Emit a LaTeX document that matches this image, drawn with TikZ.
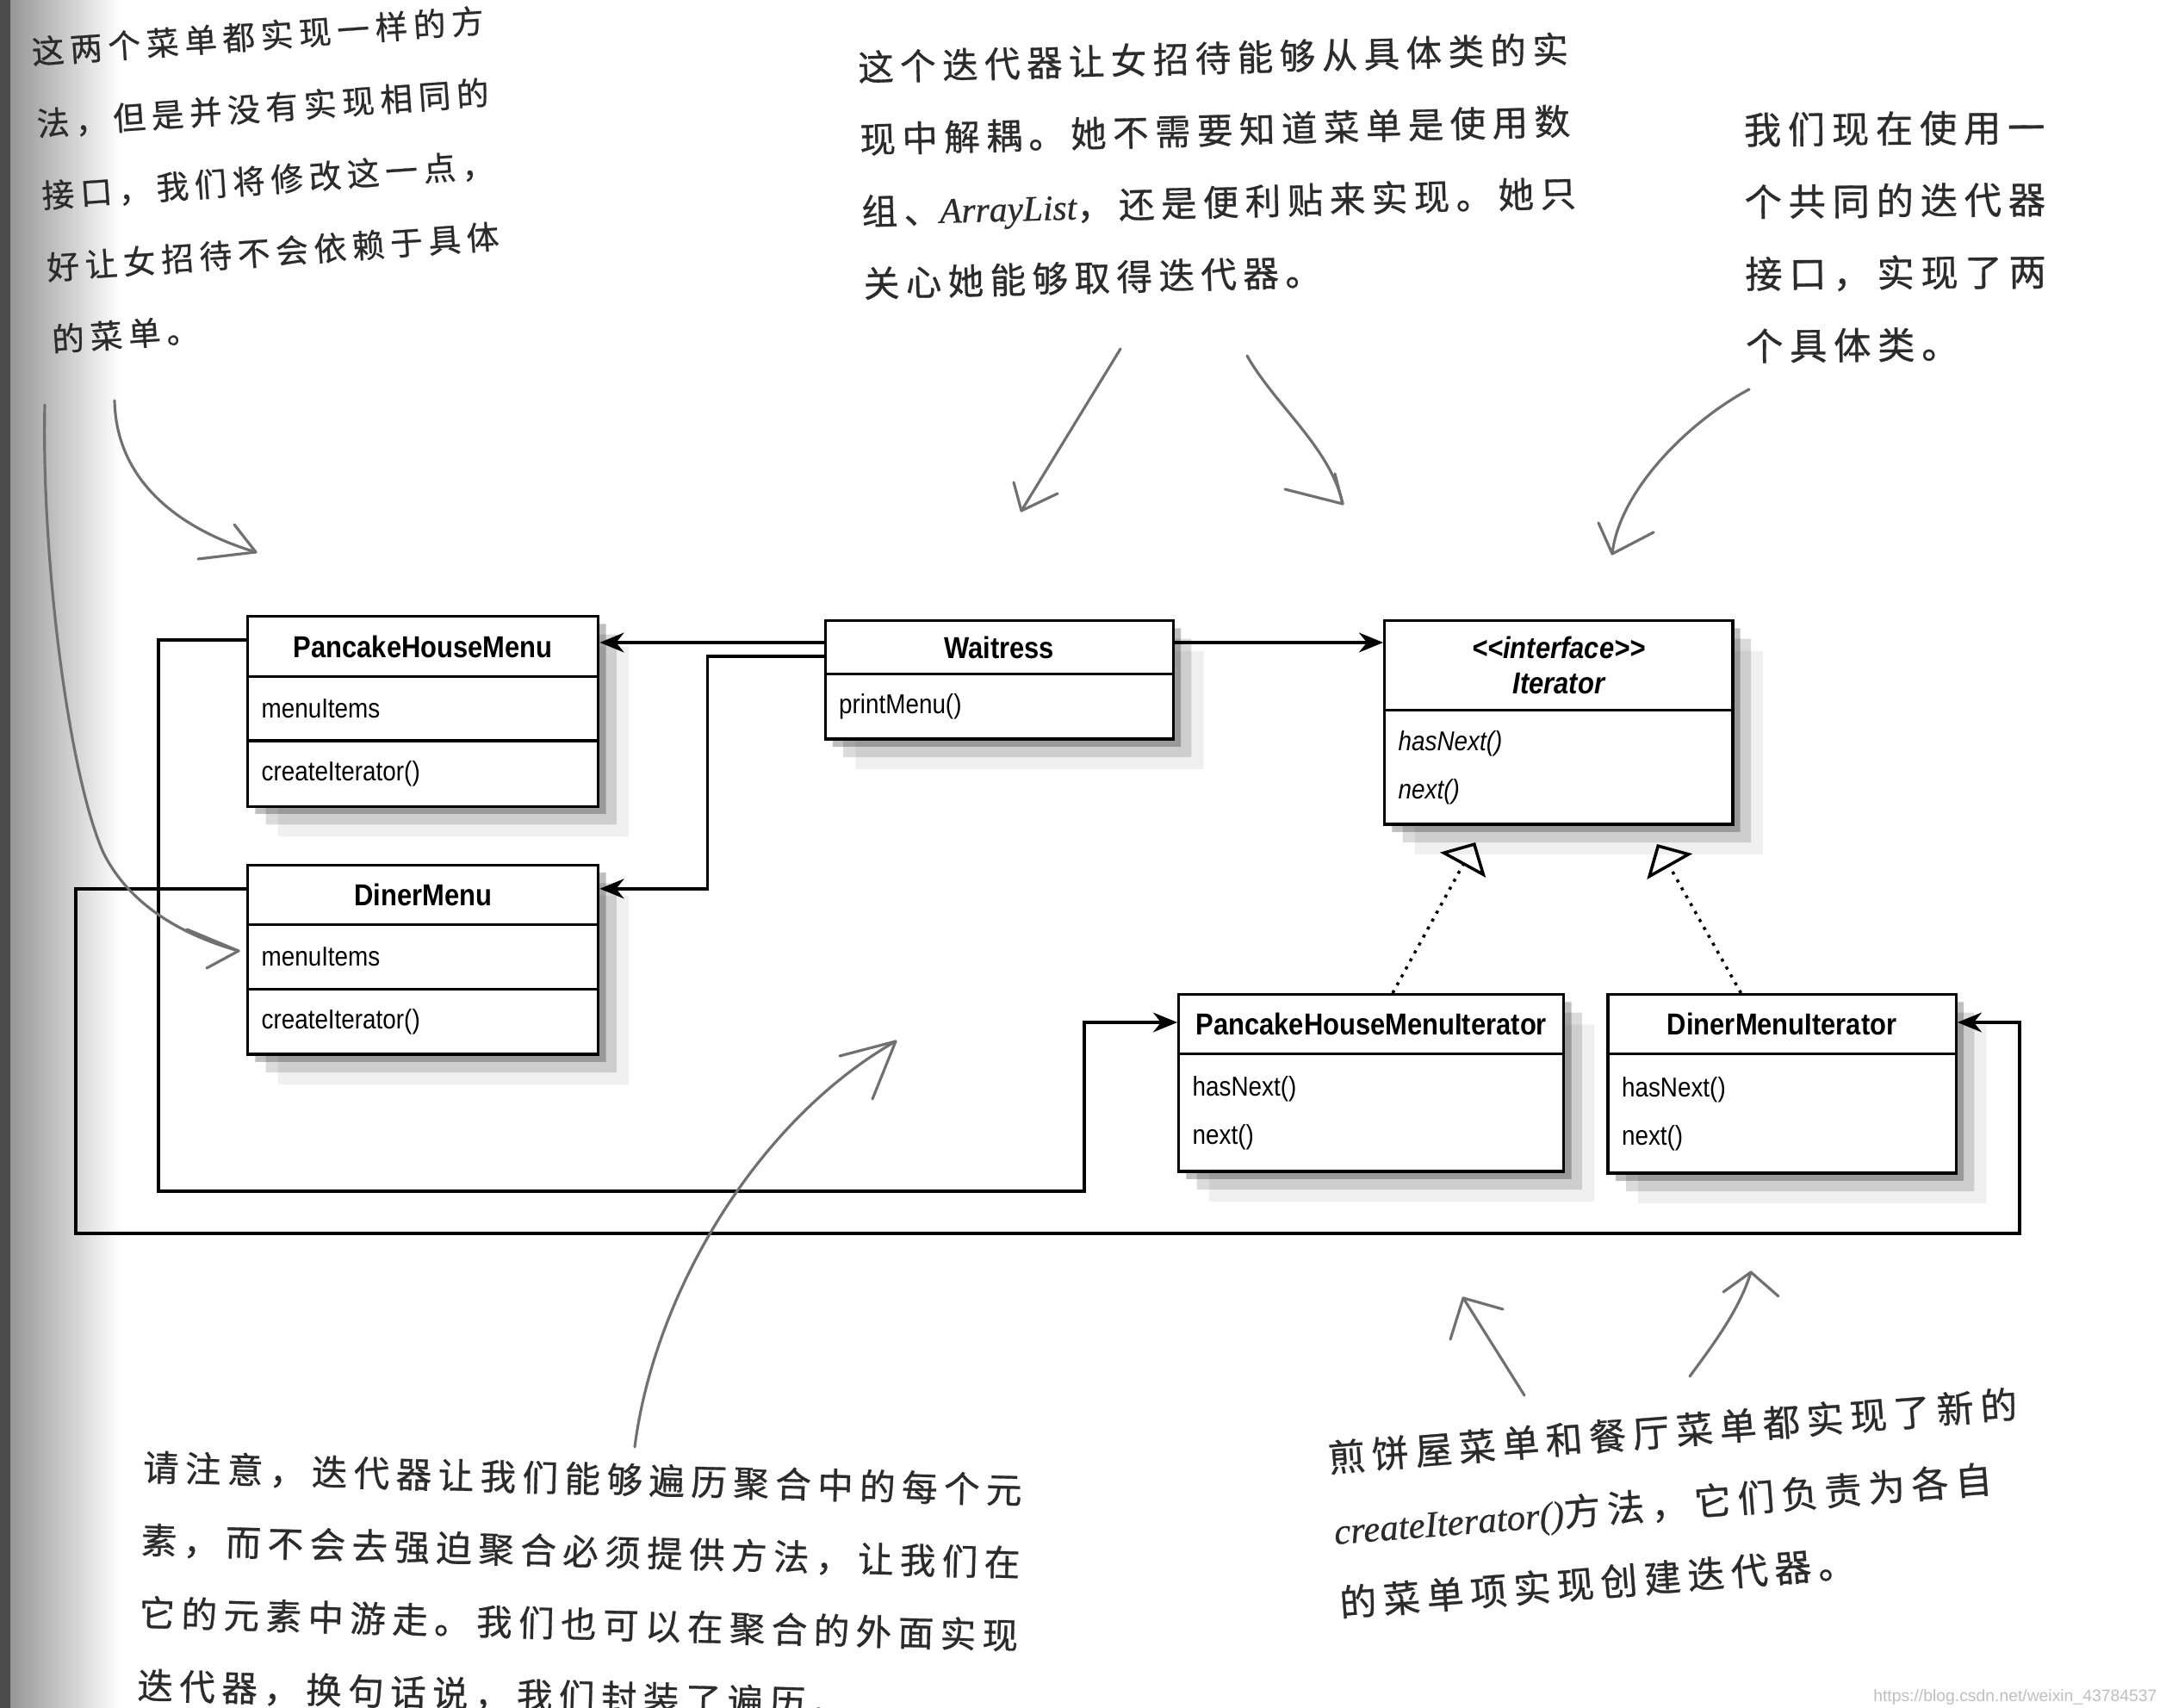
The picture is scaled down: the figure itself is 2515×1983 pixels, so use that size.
\documentclass[tikz,border=0pt]{standalone}
\usepackage{fontspec}
\usepackage{xcolor}
\usepackage{tikz}
\usetikzlibrary{positioning,calc,arrows.meta,shapes.multipart,shadows}
\setmainfont{Liberation Sans}
\newfontfamily\umlfont[FakeStretch=0.88]{Liberation Sans}
\newfontfamily\handfont[LetterSpace=18, FakeBold=0.7]{Noto Sans CJK SC}
\newfontfamily\handlatin[FakeBold=0.5]{Liberation Serif}
\definecolor{InkGray}{HTML}{2B2B2B}
\definecolor{PencilGray}{HTML}{707070}
\newcommand{\cpart}[3]{\parbox[c][#2][c]{#1}{#3}}
\newcommand{\cname}[1]{{\fontsize{10}{12}\selectfont\bfseries #1}}
\newcommand{\pad}{\hspace*{0.16cm}}
\newcommand{\hand}[1]{{\handlatin\itshape #1}}

\begin{document}
\begin{tikzpicture}[x=0.01cm, y=-0.01cm,
  umlclass/.style={draw, line width=0.9pt, fill=white, inner sep=0pt,
    rectangle split, rectangle split parts=#1,
    font={\umlfont\fontsize{9}{11}\selectfont},
    drop shadow={shadow xshift=2.5pt, shadow yshift=-2.5pt, fill=black, opacity=.25},
    drop shadow={shadow xshift=6pt, shadow yshift=-6pt, fill=black, opacity=.14},
    drop shadow={shadow xshift=10pt, shadow yshift=-10pt, fill=black, opacity=.06}},
  link/.style={line width=1pt, -{Stealth[length=8pt, width=6.5pt]}},
  realize/.style={line width=1pt, dotted, -{Triangle[open, length=0.3cm, width=0.6cm]}},
  note/.style={anchor=north west, inner sep=0pt, align=left, text=InkGray},
  pencil/.style={draw=PencilGray, line width=0.9pt, line cap=round, line join=round}]
  \useasboundingbox (0,0) rectangle (2515,1983);
  \fill[white] (0,0) rectangle (2515,1983);
  % page edge
  \shade[left color=black!45, right color=white] (0,0) rectangle (140,1983);
  \fill[black!70] (0,0) rectangle (12,1983);

  % Nodes
  \node[umlclass=3, anchor=north west] (phm) at (286,714)
    {\cpart{4.07cm}{0.67cm}{\centering\cname{PancakeHouseMenu}}
     \nodepart{two}\cpart{4.07cm}{0.71cm}{\pad menuItems}
     \nodepart{three}\cpart{4.07cm}{0.73cm}{\pad createIterator()}};
  \node[umlclass=3, below=0.65cm of phm.south west, anchor=north west] (dinermenu)
    {\cpart{4.07cm}{0.66cm}{\centering\cname{DinerMenu}}
     \nodepart{two}\cpart{4.07cm}{0.72cm}{\pad menuItems}
     \nodepart{three}\cpart{4.07cm}{0.72cm}{\pad createIterator()}};
  \node[umlclass=2, right=2.6cm of phm.north east, anchor=north west, yshift=-0.05cm] (waitress)
    {\cpart{4.04cm}{0.59cm}{\centering\cname{Waitress}}
     \nodepart{two}\cpart{4.04cm}{0.72cm}{\pad printMenu()}};
  \node[umlclass=2, right=2.42cm of waitress.north east, anchor=north west] (iter)
    {\cpart{4.04cm}{1.01cm}{\centering\cname{\itshape <{}<interface>{}>\\[0.7pt] Iterator}}
     \nodepart{two}\cpart{4.04cm}{1.29cm}{\itshape\pad hasNext()\\[4.9pt]\pad next()}};
  \node[umlclass=2, anchor=north west] (phmi) at (1367,1153)
    {\cpart{4.47cm}{0.66cm}{\centering\cname{PancakeHouseMenuIterator}}
     \nodepart{two}\cpart{4.47cm}{1.33cm}{\pad hasNext()\\[4.9pt]\pad next()}};
  \node[umlclass=2, right=0.48cm of phmi.north east, anchor=north west] (dmi)
    {\cpart{4.04cm}{0.66cm}{\centering\cname{DinerMenuIterator}}
     \nodepart{two}\cpart{4.04cm}{1.35cm}{\pad hasNext()\\[4.9pt]\pad next()}};

  % Arrows
  \coordinate (wl) at ($(waitress.north west)+(0,27)$);
  \coordinate (wr) at ($(waitress.north east)+(0,27)$);
  \coordinate (dmr) at ($(dinermenu.north east)+(0,29)$);
  \coordinate (phml) at ($(phm.north west)+(0,29)$);
  \coordinate (dml) at ($(dinermenu.north west)+(0,29)$);
  \coordinate (phmiw) at ($(phmi.north west)+(0,34)$);
  \coordinate (dmie) at ($(dmi.north east)+(0,34)$);
  \draw[link] (wl) -- (wl -| phm.east);
  \draw[link] ($(waitress.north west)+(0,43)$) -| ($(dmr)+(125,0)$) -- (dmr);
  \draw[link] (wr) -- (wr -| iter.west);
  \draw[link] (phml) -- ++(-102,0) |- (1259,1383) |- (phmiw);
  \draw[link] (dml) -- ++(-198,0) |- (2345,1432) |- (dmie);
  \coordinate (tipA) at (1713,978);
  \coordinate (tipB) at (1924,980);
  \draw[realize] ($(phmi.north west)+(250,0)$) -- (tipA);
  \draw[realize] ($(dmi.north west)+(156,0)$) -- (tipB);

  % Notes
  \node[note, rotate=4, font={\handfont\fontsize{10.7}{23.8}\selectfont}] (noteA) at (35,42)
    {这两个菜单都实现一样的方\\法，但是并没有实现相同的\\接口，我们将修改这一点，\\好让女招待不会依赖于具体\\的菜单。};
  \node[note, rotate=1.5, font={\handfont\fontsize{11.8}{23.8}\selectfont}] (noteB) at (995,58)
    {这个迭代器让女招待能够从具体类的实\\现中解耦。她不需要知道菜单是使用数\\组、\hand{ArrayList}，还是便利贴来实现。她只\\关心她能够取得迭代器。};
  \node[note, rotate=0.5, font={\handfont\fontsize{12.3}{23.8}\selectfont}] (noteC) at (2024,130)
    {我们现在使用一\\个共同的迭代器\\接口，实现了两\\个具体类。};
  \node[note, rotate=-1.5, font={\handfont\fontsize{11.8}{24}\selectfont}] (noteD) at (166,1683)
    {请注意，迭代器让我们能够遍历聚合中的每个元\\素，而不会去强迫聚合必须提供方法，让我们在\\它的元素中游走。我们也可以在聚合的外面实现\\迭代器，换句话说，我们封装了遍历。};
  \node[note, rotate=4.5, font={\handfont\fontsize{12.2}{24}\selectfont}] (noteE) at (1540,1672)
    {煎饼屋菜单和餐厅菜单都实现了新的\\\hand{createIterator()}方法，它们负责为各自\\的菜单项实现创建迭代器。};
  \node[anchor=base east, inner sep=0pt, text=black!25, font={\fontsize{5.5}{6}\selectfont}] (mark) at (2505,1975)
    {https://blog.csdn.net/weixin\_43784537};

  % Pencil arrows
  \draw[pencil] (133,465) .. controls (135,560) and (210,615) .. (297,641);
  \draw[pencil] (272,609) -- (297,641) -- (230,649);
  \draw[pencil] (52,470) .. controls (48,650) and (80,900) .. (120,990) .. controls (150,1050) and (210,1085) .. (277,1104);
  \draw[pencil] (217,1079) -- (277,1104) -- (240,1124);
  \draw[pencil] (1301,405) -- (1186,593);
  \draw[pencil] (1177,560) -- (1186,593) -- (1228,573);
  \draw[pencil] (1448,413) .. controls (1480,470) and (1545,520) .. (1559,585);
  \draw[pencil] (1492,568) -- (1559,585) -- (1550,550);
  \draw[pencil] (2031,452) .. controls (1960,490) and (1880,570) .. (1872,643);
  \draw[pencil] (1856,607) -- (1872,643) -- (1920,618);
  \draw[pencil] (737,1680) .. controls (760,1500) and (880,1300) .. (1040,1209);
  \draw[pencil] (975,1226) -- (1040,1209) -- (1013,1276);
  \draw[pencil] (1770,1620) -- (1699,1507);
  \draw[pencil] (1684,1555) -- (1699,1507) -- (1745,1520);
  \draw[pencil] (1962,1598) .. controls (1990,1560) and (2020,1520) .. (2033,1477);
  \draw[pencil] (2001,1500) -- (2033,1477) -- (2065,1505);
\end{tikzpicture}
\end{document}
